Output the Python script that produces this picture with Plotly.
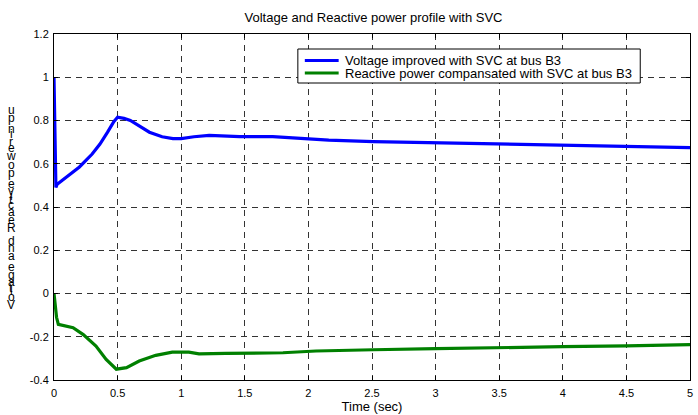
import plotly.graph_objects as go

# Simulation results: bus B3 voltage and SVC reactive power (pu) vs time (s)
time_v = [0, 0.004, 0.008, 0.015, 0.025, 0.05, 0.1, 0.2, 0.3, 0.36, 0.42, 0.47, 0.5,
          0.55, 0.6, 0.67, 0.75, 0.85, 0.935, 1.0, 1.1, 1.22, 1.35, 1.46, 1.72, 2.1,
          2.16, 2.51, 3.0, 3.5, 4.0, 4.5, 5.0]
voltage = [1.0, 0.84, 0.6, 0.49, 0.505, 0.516, 0.54, 0.585, 0.645, 0.69, 0.745, 0.795,
           0.815, 0.81, 0.8, 0.775, 0.746, 0.725, 0.716, 0.716, 0.725, 0.731, 0.728,
           0.725, 0.725, 0.711, 0.709, 0.702, 0.696, 0.693, 0.685, 0.68, 0.675]

time_q = [0, 0.01, 0.02, 0.034, 0.08, 0.15, 0.23, 0.33, 0.41, 0.45, 0.49, 0.57, 0.67,
          0.8, 0.93, 1.06, 1.14, 1.35, 1.8, 2.06, 2.24, 2.51, 3.0, 3.5, 4.0, 4.5, 5.0]
reactive = [0, -0.05, -0.11, -0.143, -0.148, -0.158, -0.19, -0.243, -0.305, -0.33,
            -0.35, -0.343, -0.312, -0.286, -0.271, -0.271, -0.279, -0.277, -0.274,
            -0.266, -0.263, -0.26, -0.255, -0.252, -0.246, -0.242, -0.236]

x_ticks = [0, 0.5, 1, 1.5, 2, 2.5, 3, 3.5, 4, 4.5, 5]
x_tick_labels = ["0", "0.5", "1", "1.5", "2", "2.5", "3", "3.5", "4", "4.5", "5"]
y_ticks = [-0.4, -0.2, 0, 0.2, 0.4, 0.6, 0.8, 1.0, 1.2]
y_tick_labels = ["-0.4", "-0.2", "0", "0.2", "0.4", "0.6", "0.8", "1", "1.2"]

series_names = ["Voltage improved with SVC at bus B3",
                "Reactive power compansated with SVC at bus B3"]
series_colors = ["#0000ff", "#008000"]

title_text = "Voltage and Reactive power profile with SVC"
x_label = "Time (sec)"
y_label = "Voltage and Reactive power in pu"

FONT = "Arial, Liberation Sans, sans-serif"
W, H = 698, 415
L, R, T, B = 54, 5, 34, 35
plot_w = W - L - R
plot_h = H - T - B


def px(x):
    return (x - L) / plot_w


def py(y):
    return (H - B - y) / plot_h


fig = go.Figure()
for tx, vals, name, col in [(time_v, voltage, series_names[0], series_colors[0]),
                            (time_q, reactive, series_names[1], series_colors[1])]:
    fig.add_trace(go.Scatter(x=tx, y=vals, mode="lines", name=name,
                             line=dict(color=col, width=3.2), showlegend=False))

axis_common = dict(showline=True, linecolor="black", linewidth=1, mirror="ticks",
                   ticks="inside", ticklen=4, tickcolor="black",
                   showgrid=True, gridcolor="#333333", gridwidth=1, griddash="6px,5px",
                   zeroline=False, tickfont=dict(family=FONT, size=11, color="black"))

fig.update_xaxes(range=[0, 5], tickvals=x_ticks, ticktext=x_tick_labels,
                 ticklabelstandoff=3,
                 title=dict(text=x_label, font=dict(family=FONT, size=13, color="black"),
                            standoff=0), **axis_common)
fig.update_yaxes(range=[-0.4, 1.2], tickvals=y_ticks, ticktext=y_tick_labels,
                 ticklabelstandoff=2, **axis_common)

annotations = []
shapes = []

# Y label: upright characters stacked bottom-to-top, advanced by glyph width
em = {"V": .667, "o": .556, "l": .222, "t": .278, "a": .556, "g": .556, "e": .556,
      " ": .278, "n": .556, "d": .556, "R": .722, "c": .5, "i": .222, "v": .5,
      "p": .556, "w": .722, "r": .333, "u": .556}
adv_px = 13.6
pos = 305.0  # pixel row of first character centre
prev_w = None
for ch in y_label:
    w = em.get(ch, .556) * adv_px
    if prev_w is not None:
        pos -= (prev_w + w) / 2
    prev_w = w
    if ch != " ":
        annotations.append(dict(text=ch, xref="paper", yref="paper",
                                x=px(11), y=py(pos),
                                xanchor="center", yanchor="middle", showarrow=False,
                                font=dict(family=FONT, size=12, color="black")))

# Legend box with line samples
box = (299, 49, 643, 83)
shapes.append(dict(type="rect", xref="paper", yref="paper",
                   x0=px(box[0]), x1=px(box[2]), y0=py(box[3]), y1=py(box[1]),
                   line=dict(color="black", width=1), fillcolor="white", layer="above"))
for i, (name, col) in enumerate(zip(series_names, series_colors)):
    row = 60.5 + 12.5 * i
    shapes.append(dict(type="line", xref="paper", yref="paper",
                       x0=px(306), x1=px(340), y0=py(row), y1=py(row),
                       line=dict(color=col, width=3.2), layer="above"))
    annotations.append(dict(text=name, xref="paper", yref="paper",
                            x=px(344), y=py(row), xanchor="left", yanchor="middle",
                            showarrow=False,
                            font=dict(family=FONT, size=13, color="black")))

fig.update_layout(
    width=W, height=H,
    margin=dict(l=L, r=R, t=T, b=B),
    paper_bgcolor="white", plot_bgcolor="white",
    title=dict(text=title_text, x=(L + plot_w / 2) / W, xanchor="center",
               y=1 - 17 / H, yanchor="middle",
               font=dict(family=FONT, size=13, color="black")),
    annotations=annotations,
    shapes=shapes,
    showlegend=False,
)

fig.write_html("out.html")
